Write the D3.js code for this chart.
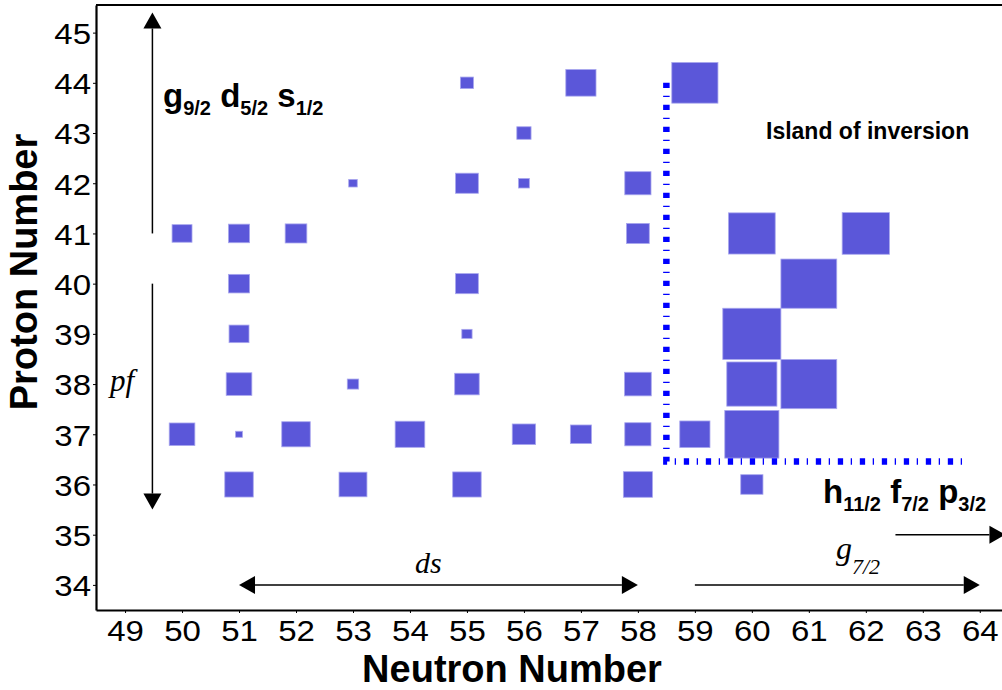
<!DOCTYPE html>
<html>
<head>
<meta charset="utf-8">
<script src="https://cdn.jsdelivr.net/npm/d3@7/dist/d3.min.js"></script>
<style>
  body { margin: 0; background: #fff; }
  svg { display: block; }
  text { font-family: "Liberation Sans", Arial, sans-serif; }
  .serif { font-family: "Liberation Serif", "Times New Roman", serif; font-style: italic; }
</style>
</head>
<body>
<svg id="chart" width="1002" height="690"></svg>
<script>

// nuclei shown on the chart: neutron number, proton number, marker strength (side in nucleon units)
var neutrons = [55, 57, 59,
                56,
                53, 55, 56, 58,
                50, 51, 52, 58, 60, 62,
                51, 55, 61,
                51, 55, 60,
                51, 53, 55, 58, 60, 61,
                50, 51, 52, 54, 56, 57, 58, 59, 60,
                51, 53, 55, 58, 60];
var protons  = [44, 44, 44,
                43,
                42, 42, 42, 42,
                41, 41, 41, 41, 41, 41,
                40, 40, 40,
                39, 39, 39,
                38, 38, 38, 38, 38, 38,
                37, 37, 37, 37, 37, 37, 37, 37, 37,
                36, 36, 36, 36, 36];
var strength = [0.23, 0.53, 0.81,
                0.25,
                0.15, 0.40, 0.19, 0.46,
                0.35, 0.37, 0.38, 0.40, 0.82, 0.83,
                0.37, 0.40, 0.98,
                0.35, 0.18, 1.02,
                0.45, 0.20, 0.43, 0.47, 0.88, 0.98,
                0.45, 0.12, 0.50, 0.52, 0.41, 0.37, 0.46, 0.53, 0.95,
                0.50, 0.49, 0.50, 0.51, 0.39];

// tick labels
var neutronTicks = [49, 50, 51, 52, 53, 54, 55, 56, 57, 58, 59, 60, 61, 62, 63, 64];
var protonTicks = [34, 35, 36, 37, 38, 39, 40, 41, 42, 43, 44, 45];

// island of inversion border (N, Z)
var islandN = [58.5, 58.5, 63.74];
var islandZ = [44.0, 36.46, 36.46];

var width = 1002, height = 690;
var margin = { left: 96, right: 0, top: 5, bottom: 80 };

var svg = d3.select('#chart');

var x = d3.scaleLinear().domain([48.49, 64.39]).range([margin.left, width - margin.right]);
var y = d3.scaleLinear().domain([33.5, 45.55]).range([height - margin.bottom, margin.top]);

var nuclei = neutrons.map(function(n, i) {
  return { n: n, z: protons[i], s: strength[i] };
});

// squares
svg.append('g')
  .selectAll('rect')
  .data(nuclei)
  .enter().append('rect')
    .attr('x', function(d) { return x(d.n - d.s / 2); })
    .attr('y', function(d) { return y(d.z + d.s / 2); })
    .attr('width', function(d) { return x(d.n + d.s / 2) - x(d.n - d.s / 2); })
    .attr('height', function(d) { return y(d.z - d.s / 2) - y(d.z + d.s / 2); })
    .attr('fill', '#5b57d9')
    .attr('stroke', '#a9a7ee')
    .attr('stroke-width', 0.8);

// island of inversion border
var border = islandN.map(function(n, i) { return [n, islandZ[i]]; });
svg.append('path')
  .attr('d', d3.line().x(function(d) { return x(d[0]); }).y(function(d) { return y(d[1]); })(border))
  .attr('fill', 'none')
  .attr('stroke', '#0000ff')
  .attr('stroke-width', 6.5)
  .attr('stroke-dasharray', '5.3,7.6,1.3,7.8');

// axes
var xAxis = svg.append('g')
  .attr('transform', 'translate(0,' + (height - margin.bottom) + ')')
  .call(d3.axisBottom(x).tickValues(neutronTicks).tickSize(3).tickSizeOuter(0).tickFormat(d3.format('d')));
var yAxis = svg.append('g')
  .attr('transform', 'translate(' + margin.left + ',0)')
  .call(d3.axisLeft(y).tickValues(protonTicks).tickSize(3).tickSizeOuter(0).tickFormat(d3.format('d')));

[xAxis, yAxis].forEach(function(ax) {
  ax.select('.domain').attr('stroke', '#000').attr('stroke-width', 2.2);
  ax.selectAll('.tick line').attr('stroke', '#000').attr('stroke-width', 1);
  ax.selectAll('.tick text')
    .attr('fill', '#000')
    .style('font-size', '30px')
    .style('font-family', '"Liberation Sans", Arial, sans-serif');
});
xAxis.selectAll('.tick text').attr('y', 31.5).attr('dy', 0).attr('transform', 'scale(1.1,1)');
yAxis.selectAll('.tick text').attr('x', -5 / 1.1).attr('dy', '0.36em').attr('transform', 'scale(1.1,1)');

// top frame line
svg.append('line')
  .attr('x1', margin.left).attr('x2', width)
  .attr('y1', margin.top).attr('y2', margin.top)
  .attr('stroke', '#000').attr('stroke-width', 2);

// axis titles
svg.append('text')
  .attr('x', 512).attr('y', 682)
  .attr('text-anchor', 'middle')
  .style('font-size', '38px').style('font-weight', 'bold')
  .text('Neutron Number');
svg.append('text')
  .attr('transform', 'translate(37,272) rotate(-90)')
  .attr('text-anchor', 'middle')
  .style('font-size', '38px').style('font-weight', 'bold')
  .text('Proton Number');

// arrows
function arrow(n1, z1, n2, z2, both) {
  var x1 = x(n1), y1 = y(z1), x2 = x(n2), y2 = y(z2);
  var a = Math.atan2(y2 - y1, x2 - x1);
  var len = 16, half = 9;
  var g = svg.append('g');
  var sx = both ? x1 + Math.cos(a) * len : x1, sy = both ? y1 + Math.sin(a) * len : y1;
  g.append('line')
    .attr('x1', sx).attr('y1', sy)
    .attr('x2', x2 - Math.cos(a) * len).attr('y2', y2 - Math.sin(a) * len)
    .attr('stroke', '#000').attr('stroke-width', 1.5);
  function head(tx, ty, ang) {
    var bx = tx - Math.cos(ang) * len, by = ty - Math.sin(ang) * len;
    g.append('path')
      .attr('d', 'M' + tx + ',' + ty +
        'L' + (bx - Math.sin(ang) * half) + ',' + (by + Math.cos(ang) * half) +
        'L' + (bx + Math.sin(ang) * half) + ',' + (by - Math.cos(ang) * half) + 'Z')
      .attr('fill', '#000');
  }
  head(x2, y2, a);
  if (both) head(x1, y1, a + Math.PI);
}

arrow(49.48, 41, 49.48, 45.4, false);
arrow(49.48, 40, 49.48, 35.5, false);
arrow(51, 34, 58, 34, true);
arrow(59, 34, 64, 34, false);
arrow(62.52, 35, 64.45, 35, false);

// shell labels with subscripts
function shellLabel(px, py, parts) {
  var t = svg.append('text')
    .attr('x', px).attr('y', py)
    .style('font-size', '33px').style('font-weight', 'bold')
    .style('white-space', 'pre');
  parts.forEach(function(p, i) {
    t.append('tspan').attr('dy', i === 0 ? 0 : -8).text((i === 0 ? '' : ' ') + p[0]);
    t.append('tspan').attr('dy', 8).style('font-size', '20px').text(p[1]);
  });
}
shellLabel(163, 107, [['g', '9/2'], ['d', '5/2'], ['s', '1/2']]);
shellLabel(823, 503, [['h', '11/2'], ['f', '7/2'], ['p', '3/2']]);

svg.append('text')
  .attr('x', 766).attr('y', 139)
  .style('font-size', '23px').style('font-weight', 'bold')
  .text('Island of inversion');

svg.append('text').attr('class', 'serif')
  .attr('x', 110).attr('y', 391)
  .style('font-size', '31px')
  .text('pf');

svg.append('text').attr('class', 'serif')
  .attr('x', 415).attr('y', 573)
  .style('font-size', '30px')
  .text('ds');

var g72 = svg.append('text').attr('class', 'serif')
  .attr('x', 836).attr('y', 559)
  .style('font-size', '32px');
g72.append('tspan').text('g');
g72.append('tspan').attr('dy', 15).style('font-size', '22px').text('7/2');

</script>
</body>
</html>
